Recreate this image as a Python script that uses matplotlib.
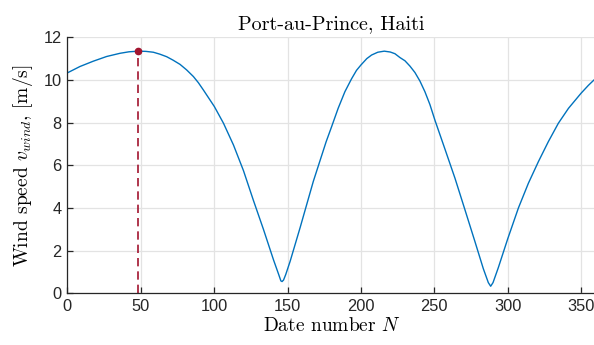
#!/usr/bin/env python3
# -*- coding: utf-8 -*-
"""Wind speed over the year, Port-au-Prince."""

import matplotlib
matplotlib.use('Agg')
import matplotlib.pyplot as plt

# values
day_number = [0, 8.6, 17.7, 26.8, 35.9, 42, 48.4, 53.5, 58.6, 63, 67.7, 72,
              76.8, 81.3, 85.9, 89.3, 92.7, 100.2, 106.4, 113.2, 120, 126.8,
              133.6, 140.5, 143.9, 145.5, 146.3, 147.3, 148.8, 151.8, 158.6,
              167.6, 176.3, 180, 184.5, 189.1, 193.6, 197, 200, 204, 207.3,
              211.5, 215.9, 220, 223.2, 226.6, 230, 233.4, 236.8, 240.2,
              243.6, 247, 250.5, 257.3, 264.1, 270.9, 277.7, 283.4, 286.8,
              288.4, 290, 293.6, 300, 307.3, 314.1, 320.9, 327.7, 334.5,
              341.4, 350, 355, 360]
wind_speed = [10.33, 10.63, 10.88, 11.1, 11.25, 11.32, 11.35, 11.34, 11.3,
              11.21, 11.09, 10.93, 10.73, 10.47, 10.16, 9.87, 9.53, 8.75,
              7.97, 6.95, 5.75, 4.35, 3.0, 1.56, 0.9, 0.58, 0.55, 0.62, 0.88,
              1.5, 3.08, 5.25, 7.1, 7.8, 8.67, 9.45, 10.05, 10.45, 10.7, 11.0,
              11.17, 11.3, 11.35, 11.31, 11.23, 11.05, 10.9, 10.65, 10.35,
              9.95, 9.45, 8.85, 8.1, 6.75, 5.39, 3.91, 2.42, 1.15, 0.5, 0.33,
              0.5, 1.2, 2.55, 4.0, 5.16, 6.17, 7.11, 7.97, 8.67, 9.38, 9.75,
              10.08]

peak_day = 48.3
peak_speed = 11.35

x_ticks = [0, 50, 100, 150, 200, 250, 300, 350]
y_ticks = [0, 2, 4, 6, 8, 10, 12]


def main():
    plt.rcParams['mathtext.fontset'] = 'cm'
    fig = plt.figure(figsize=(5.94, 3.45), dpi=100)
    ax = fig.add_axes([0.1133, 0.1499, 0.8897, 0.742])

    ax.plot(day_number, wind_speed, color='#0072BD', lw=1.0)
    ax.vlines(peak_day, 0, peak_speed, colors='#A2142F', linestyles=(0, (5, 3)),
              lw=1.2)
    ax.plot(peak_day, peak_speed, 'o', color='#A2142F', ms=4.5)

    ax.set_xlim(0, 360)
    ax.set_ylim(0, 12)
    ax.set_xticks(x_ticks)
    ax.set_yticks(y_ticks)

    ax.grid(color='#e3e3e3', lw=0.9)
    ax.set_axisbelow(True)
    for side in ('top', 'right'):
        ax.spines[side].set_visible(False)
    for side in ('left', 'bottom'):
        ax.spines[side].set_color('#262626')
        ax.spines[side].set_linewidth(0.9)
    ax.tick_params(direction='in', length=4.5, width=0.9, color='#262626',
                   labelsize=11.8, labelcolor='#262626', pad=4)
    for lbl in ax.get_xticklabels() + ax.get_yticklabels():
        lbl.set_fontfamily('Liberation Sans')

    ax.set_title('Port-au-Prince, Haiti', fontfamily='cmr10', fontsize=14.5,
                 pad=6)
    ax.set_xlabel(r'Date number $N$', fontfamily='cmr10', fontsize=14,
                  labelpad=2)
    ax.set_ylabel(r'Wind speed $v_{wind}$, [m/s]', fontfamily='cmr10',
                  fontsize=14, labelpad=6)

    fig.savefig('out.png', dpi=100)


if __name__ == '__main__':
    main()
